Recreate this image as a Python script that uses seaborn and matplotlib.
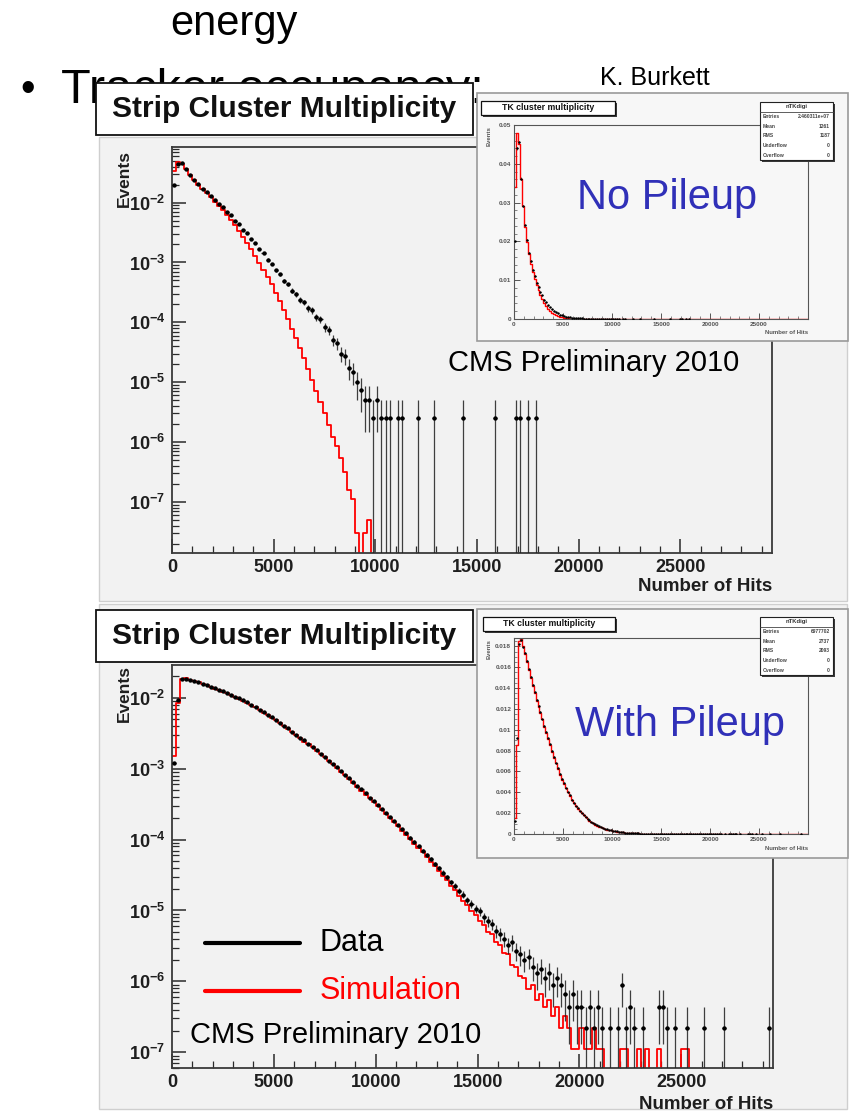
import numpy as np
import pandas as pd
import matplotlib
matplotlib.use("Agg")
import matplotlib.pyplot as plt
import seaborn as sns
from matplotlib.patches import Rectangle
from matplotlib.lines import Line2D
from matplotlib.ticker import (LogLocator, MultipleLocator, FuncFormatter,
                               NullFormatter)

# ---------------------------------------------------------------- data
# Histograms use 200-hit bins starting at 0; dense arrays hold the first
# bins in order, *_tail arrays list isolated bins (centre, content).
BIN_W = 200
X_MAX = 30000

# No pileup
top_data = [
    0.0200, 0.0440, 0.0455, 0.0362, 0.0292,
    0.0241, 0.0203, 0.0171, 0.0149, 0.0127,
    0.0111, 0.0094, 0.0083, 0.0069, 0.0061,
    0.0050, 0.0044, 0.0035, 0.0031, 0.0025,
    0.00212, 0.00168, 0.00143, 0.00112, 0.00095,
    0.00074, 0.00064, 0.00049, 0.00043, 0.00034,
    0.000295, 0.000238, 0.000215, 0.000171, 0.000158,
    0.000122, 0.000113, 0.000082, 0.000074, 0.000051,
    0.000045, 0.000030, 0.0000275, 0.0000175, 0.0000150,
    0.0000100, 0.0000075, 0.0000050,
]
top_data_tail_x = [9700, 9900, 10100, 10300, 10500, 10700, 11100, 11300,
                   12100, 12900, 14300, 15900, 16900, 17100, 17500, 17900]
top_data_tail_y = [5e-6, 2.5e-6, 5e-6, 2.5e-6, 2.5e-6, 2.5e-6, 2.5e-6, 2.5e-6,
                   2.5e-6, 2.5e-6, 2.5e-6, 2.5e-6, 2.5e-6, 2.5e-6, 2.5e-6, 2.5e-6]
top_sim = [
    0.0340, 0.0480, 0.0450, 0.0360, 0.0290,
    0.0238, 0.0198, 0.0168, 0.0143, 0.0122,
    0.0104, 0.0088, 0.0074, 0.0062, 0.0051,
    0.0042, 0.0034, 0.0027, 0.0021, 0.00165,
    0.00128, 0.00098, 0.00075, 0.00057, 0.00043,
    0.00031, 0.000225, 0.000160, 0.000112, 0.000078,
    5.4e-5, 3.7e-5, 2.5e-5, 1.65e-5, 1.08e-5,
    7.2e-6, 4.6e-6, 3.0e-6, 1.9e-6, 1.2e-6,
    8.5e-7, 5.5e-7, 3.2e-7, 1.6e-7, 1.1e-7,
    3e-8, 0.0, 3e-8, 5e-8, 0.0,
]
top_unit = 2.5e-6   # content of a single-entry bin

# With pileup
bot_data = [
    0.0012, 0.0092, 0.0182, 0.0186, 0.0179,
    0.0174, 0.0166, 0.0158, 0.0151, 0.0143,
    0.0136, 0.0129, 0.0123, 0.0117, 0.0110,
    0.0104, 0.0098, 0.0092, 0.0086, 0.0080,
    0.0074, 0.0068, 0.0063, 0.0058, 0.0053,
    0.0049, 0.0044, 0.0040, 0.0037, 0.0033,
    0.0030, 0.0027, 0.0025, 0.0022, 0.0020,
    0.00181, 0.00163, 0.00146, 0.00130, 0.00117,
    0.00104, 0.00093, 0.00082, 0.00073, 0.00065,
    0.00057, 0.00051, 0.00045, 0.00039, 0.00035,
    0.00031, 0.00027, 0.00024, 0.000210, 0.000184,
    0.000160, 0.000141, 0.000123, 0.000106, 0.000093,
    0.000081, 0.000070, 0.000061, 0.000053, 0.000045,
    0.000040, 0.000034, 0.0000295, 0.0000250, 0.0000222,
    0.0000190, 0.0000168, 0.0000139, 0.0000125, 0.0000106,
    0.0000097, 0.0000080, 0.0000071, 0.0000065, 0.0000051,
    0.0000047, 0.0000040, 0.0000033, 0.0000036, 0.0000027,
    0.0000024, 0.0000020, 0.0000022, 0.0000016, 0.0000013,
    0.0000015, 0.0000011, 0.0000013, 0.00000088, 0.0000011,
]
bot_data_tail_x = [19100, 19300, 19500, 19700, 19900, 20100, 20300, 20500,
                   20700, 20900, 21100, 21500, 21900, 22100, 22300, 22500,
                   22700, 23100, 23900, 24100, 24300, 24700, 25300, 26100,
                   27100, 29300]
bot_data_tail_y = [8.8e-7, 6.6e-7, 4.4e-7, 6.6e-7, 4.4e-7, 4.4e-7, 2.2e-7, 4.4e-7,
                   2.2e-7, 4.4e-7, 2.2e-7, 2.2e-7, 2.2e-7, 8.8e-7, 2.2e-7, 4.4e-7,
                   2.2e-7, 2.2e-7, 4.4e-7, 4.4e-7, 2.2e-7, 2.2e-7, 2.2e-7, 2.2e-7,
                   2.2e-7, 2.2e-7]
bot_sim = [
    0.0015, 0.0085, 0.0185, 0.0188, 0.0180,
    0.0173, 0.0165, 0.0157, 0.0150, 0.0142,
    0.0135, 0.0128, 0.0122, 0.0116, 0.0110,
    0.0103, 0.0097, 0.0091, 0.0085, 0.0079,
    0.0073, 0.0068, 0.0062, 0.0057, 0.0052,
    0.0048, 0.0044, 0.0040, 0.0036, 0.0033,
    0.0030, 0.0027, 0.0024, 0.0022, 0.0020,
    0.00180, 0.00161, 0.00144, 0.00129, 0.00115,
    0.00102, 0.00091, 0.00081, 0.00071, 0.00063,
    0.00056, 0.00049, 0.00043, 0.00038, 0.00034,
    0.00030, 0.00026, 0.00023, 0.000200, 0.000176,
    0.000154, 0.000134, 0.000116, 0.000101, 0.000088,
    0.000076, 0.000066, 0.000057, 0.000049, 0.000042,
    0.000036, 0.000031, 0.0000265, 0.0000225, 0.0000192,
    0.0000160, 0.0000135, 0.0000118, 0.0000098, 0.0000085,
    0.0000070, 0.0000062, 0.0000050, 0.0000046, 0.0000036,
    0.0000033, 0.0000025, 0.0000024, 0.0000017, 0.0000016,
    0.0000012, 0.0000011, 0.00000078, 0.00000088, 0.00000055,
    0.00000066, 0.00000044, 0.00000055, 0.00000033, 0.00000044,
    0.00000022, 0.00000033, 0.00000022, 0.00000011, 0.00000011,
]
bot_sim_tail_x = [20100, 20300, 20500, 20700, 20900, 21100, 22100, 22300,
                  22900, 23300, 23900, 25100, 25300]
bot_sim_tail_y = [2.2e-7, 1.1e-7, 1.1e-7, 2.2e-7, 1.1e-7, 1.1e-7, 1.1e-7, 1.1e-7,
                  1.1e-7, 1.1e-7, 1.1e-7, 1.1e-7, 1.1e-7]
bot_unit = 2.2e-7

stats_labels = ["Entries", "Mean", "RMS", "Underflow", "Overflow"]
top_stats = ["2.460311e+07", "1261", "1187", "0", "0"]
bot_stats = ["6977702", "2737", "2093", "0", "0"]

# ---------------------------------------------------------------- setup
sns.set_theme(style="white")
plt.rcParams["font.family"] = ["Liberation Sans", "DejaVu Sans"]
plt.rcParams["font.weight"] = "bold"
plt.rcParams["axes.labelweight"] = "bold"
plt.rcParams["mathtext.fontset"] = "custom"
plt.rcParams["mathtext.rm"] = "Liberation Sans:bold"
plt.rcParams["mathtext.it"] = "Liberation Sans:bold"
plt.rcParams["mathtext.bf"] = "Liberation Sans:bold"

W, H = 851, 1117
fig = plt.figure(figsize=(W / 100, H / 100), dpi=100)
fig.patch.set_facecolor("white")

edges = np.arange(0, X_MAX + BIN_W, BIN_W)
centers = edges[:-1] + BIN_W / 2


def rect(x0, y0, x1, y1):
    """Pixel box (top-left origin) -> figure fraction [l, b, w, h]."""
    return [x0 / W, 1 - y1 / H, (x1 - x0) / W, (y1 - y0) / H]


def fx(x):
    return x / W


def fy(y):
    return 1 - y / H


def panel(x0, y0, x1, y1, face, edge, z, lw=1.0):
    fig.add_artist(Rectangle((fx(x0), fy(y1)), (x1 - x0) / W, (y1 - y0) / H,
                             transform=fig.transFigure, facecolor=face,
                             edgecolor=edge, linewidth=lw, zorder=z))


def full_hist(dense, tail_x=(), tail_y=()):
    h = np.zeros(len(centers))
    h[:len(dense)] = dense
    for x, y in zip(tail_x, tail_y):
        h[int(x // BIN_W)] = y
    return h


def draw_sim(ax, h, lw):
    df = pd.DataFrame({"hits": centers, "content": h})
    sns.histplot(data=df, x="hits", weights="content", binwidth=BIN_W,
                 binrange=(0, X_MAX), element="step", fill=False,
                 color="#ff0000", linewidth=lw, ax=ax, zorder=2)


def draw_data(ax, h, unit, ms, lw, log):
    keep = h > 0
    cx, cy = centers[keep], h[keep]
    err = np.sqrt(cy * unit)
    lo = cy - err
    if log:
        lo = np.where(lo > 0, lo, 1e-14)
    else:
        lo = np.clip(lo, 0, None)
    ax.vlines(cx, lo, cy + err, colors="#202020", linewidth=lw, zorder=3, alpha=0.85)
    ax.hlines(cy, cx - BIN_W / 2, cx + BIN_W / 2, colors="#202020", linewidth=lw, zorder=3)
    df = pd.DataFrame({"hits": cx, "events": cy})
    sns.scatterplot(data=df, x="hits", y="events", color="black", s=ms,
                    linewidth=0, ax=ax, legend=False, zorder=4)


def style_main(ax, ylo, yhi, xlab_y, ylab_y):
    ax.set_yscale("log")
    ax.set_facecolor("none")
    ax.set_xlim(0, 29500)
    ax.set_ylim(ylo, yhi)
    ax.xaxis.set_major_locator(MultipleLocator(5000))
    ax.xaxis.set_minor_locator(MultipleLocator(1000))
    ax.yaxis.set_major_locator(LogLocator(base=10, numticks=30))
    ax.yaxis.set_minor_locator(LogLocator(base=10, subs=np.arange(2, 10), numticks=30))
    ax.yaxis.set_major_formatter(
        FuncFormatter(lambda v, p: r"$\mathrm{10^{%d}}$" % round(np.log10(v))))
    ax.yaxis.set_minor_formatter(NullFormatter())
    ax.xaxis.set_major_formatter(FuncFormatter(lambda v, p: "%d" % v))
    ax.tick_params(which="both", direction="in", top=False, right=False,
                   left=True, bottom=True, colors="#2a2a2a", labelcolor="#1e1e1e")
    ax.tick_params(which="major", length=10, width=1.1)
    ax.tick_params(which="minor", length=5, width=0.9)
    ax.tick_params(axis="y", which="major", pad=5, labelsize=13)
    ax.tick_params(axis="x", which="major", pad=4, labelsize=13)
    for s in ax.spines.values():
        s.set_color("#3a3a3a")
        s.set_linewidth(1.3)
    ax.set_xlabel("Number of Hits", fontsize=13.5, fontweight="bold",
                  color="#1e1e1e", loc="right")
    ax.xaxis.set_label_coords(1.0, xlab_y)
    ax.set_ylabel("Events", fontsize=12.5, fontweight="bold",
                  color="#1e1e1e", loc="top")
    ax.yaxis.set_label_coords(-0.067, ylab_y)


def style_inset(ax, ymax, ystep, yminor):
    ax.set_facecolor("none")
    ax.set_xlim(0, X_MAX)
    ax.set_ylim(0, ymax)
    ax.xaxis.set_major_locator(MultipleLocator(5000))
    ax.xaxis.set_minor_locator(MultipleLocator(1000))
    ax.yaxis.set_major_locator(MultipleLocator(ystep))
    ax.yaxis.set_minor_locator(MultipleLocator(yminor))
    ax.xaxis.set_major_formatter(FuncFormatter(lambda v, p: "%d" % v if v < 29000 else ""))
    ax.yaxis.set_major_formatter(
        FuncFormatter(lambda v, p: "0" if abs(v) < 1e-9 else "%g" % round(v, 4)))
    ax.tick_params(which="both", direction="in", top=False, right=False,
                   left=True, bottom=True, colors="#555555", labelcolor="#555555",
                   labelsize=4.6, pad=2)
    ax.tick_params(which="major", length=4.5, width=0.7)
    ax.tick_params(which="minor", length=2.2, width=0.5)
    for s in ax.spines.values():
        s.set_color("#555555")
        s.set_linewidth(0.8)
    ax.set_xlabel("")
    ax.set_ylabel("")


def title_box(x0, y0, x1, y1, text, size, z, shadow=0, lw=1.3):
    if shadow:
        panel(x0 + shadow, y0 + shadow, x1 + shadow, y1 + shadow, "#3a3a3a", "none", z)
    panel(x0, y0, x1, y1, "white", "#111111", z + 0.1, lw=lw)
    fig.text(fx((x0 + x1) / 2), fy((y0 + y1) / 2), text, fontsize=size,
             ha="center", va="center", color="#111111", zorder=z + 0.2)


def stats_box(x0, y0, x1, y1, values, z):
    panel(x0 + 2, y0 + 2, x1 + 2, y1 + 2, "#3a3a3a", "none", z)
    panel(x0, y0, x1, y1, "white", "#222222", z + 0.1, lw=0.8)
    rowh = (y1 - y0) / 6
    fig.text(fx((x0 + x1) / 2), fy(y0 + rowh / 2), "nTKdigi", fontsize=4.2,
             ha="center", va="center", color="#333333", zorder=z + 0.2)
    fig.add_artist(Line2D([fx(x0), fx(x1)], [fy(y0 + rowh)] * 2,
                          transform=fig.transFigure, color="#444444",
                          linewidth=0.6, zorder=z + 0.2))
    for i, (lab, val) in enumerate(zip(stats_labels, values)):
        yy = fy(y0 + rowh * (i + 1.5))
        fig.text(fx(x0 + 3), yy, lab, fontsize=3.6, ha="left", va="center",
                 color="#444444", zorder=z + 0.2)
        fig.text(fx(x1 - 3), yy, val, fontsize=3.6, ha="right", va="center",
                 color="#444444", zorder=z + 0.2)


# ---------------------------------------------------------------- slide text
fig.text(fx(170), fy(35), "energy", fontsize=30, fontweight="normal",
         ha="left", va="baseline", color="black", zorder=0.5)
fig.text(fx(20), fy(101), "\u2022", fontsize=30, fontweight="normal",
         ha="left", va="baseline", color="black", zorder=0.5)
fig.text(fx(61), fy(103), "Tracker occupancy:", fontsize=35, fontweight="normal",
         ha="left", va="baseline", color="black", zorder=0.5)
fig.text(fx(655), fy(78), "K. Burkett", fontsize=18, fontweight="normal",
         ha="center", va="center", color="black", zorder=9)

# ---------------------------------------------------------------- top panel
h_top_data = full_hist(top_data, top_data_tail_x, top_data_tail_y)
h_top_sim = full_hist(top_sim)
h_bot_data = full_hist(bot_data, bot_data_tail_x, bot_data_tail_y)
h_bot_sim = full_hist(bot_sim, bot_sim_tail_x, bot_sim_tail_y)

panel(99, 137, 847, 601, "#f2f2f2", "#cfcfcf", 1)
ax1 = fig.add_axes(rect(172, 147, 772, 553), zorder=2)
ax1.set_yscale("log")
draw_sim(ax1, h_top_sim, 1.3)
draw_data(ax1, h_top_data, top_unit, 10, 0.9, True)
style_main(ax1, 1.4e-8, 0.085, -0.062, 0.993)
title_box(96, 83, 473, 135, "Strip Cluster Multiplicity", 21.5, 3)
fig.text(fx(448), fy(363), "CMS Preliminary 2010", fontsize=21, fontweight="normal",
         ha="left", va="center", color="black", zorder=9)

# inset: no pileup, linear scale
panel(477, 93, 848, 341, "#f7f7f7", "#9a9a9a", 4, lw=1.2)
ins1 = fig.add_axes(rect(514, 125, 808, 319), zorder=5)
draw_sim(ins1, h_top_sim, 1.0)
draw_data(ins1, h_top_data, top_unit, 3, 0.5, False)
style_inset(ins1, 0.05, 0.01, 0.002)
fig.text(fx(489), fy(126), "Events", fontsize=4.3, rotation=90, ha="center",
         va="top", color="#555555", zorder=6)
fig.text(fx(808), fy(333), "Number of Hits", fontsize=4.3, ha="right",
         va="center", color="#555555", zorder=6)
title_box(481, 101, 615, 115, "TK cluster multiplicity", 6.3, 6, shadow=2, lw=0.9)
stats_box(760, 102, 833, 160, top_stats, 6)
fig.text(fx(667), fy(198), "No Pileup", fontsize=30, fontweight="normal",
         ha="center", va="center", color="#3030b8", zorder=9)

# ---------------------------------------------------------------- bottom panel
panel(99, 604, 847, 1109, "#f2f2f2", "#cfcfcf", 1)
ax2 = fig.add_axes(rect(172, 665, 773, 1068), zorder=2)
ax2.set_yscale("log")
draw_sim(ax2, h_bot_sim, 1.3)
draw_data(ax2, h_bot_data, bot_unit, 10, 0.9, True)
style_main(ax2, 6e-8, 0.029, -0.069, 1.0)
title_box(96, 610, 473, 662, "Strip Cluster Multiplicity", 21.5, 3)

panel(477, 609, 848, 858, "#f7f7f7", "#9a9a9a", 4, lw=1.2)
ins2 = fig.add_axes(rect(514, 638, 808, 834), zorder=5)
draw_sim(ins2, h_bot_sim, 1.0)
draw_data(ins2, h_bot_data, bot_unit, 3, 0.5, False)
style_inset(ins2, 0.0188, 0.002, 0.0005)
fig.text(fx(489), fy(639), "Events", fontsize=4.3, rotation=90, ha="center",
         va="top", color="#555555", zorder=6)
fig.text(fx(808), fy(848), "Number of Hits", fontsize=4.3, ha="right",
         va="center", color="#555555", zorder=6)
title_box(483, 617, 615, 631, "TK cluster multiplicity", 6.3, 6, shadow=2, lw=0.9)
stats_box(760, 617, 833, 675, bot_stats, 6)
fig.text(fx(680), fy(725), "With Pileup", fontsize=30, fontweight="normal",
         ha="center", va="center", color="#3030b8", zorder=9)

# legend and label inside the bottom frame
fig.add_artist(Line2D([fx(205), fx(300)], [fy(943)] * 2, transform=fig.transFigure,
                      color="black", linewidth=3, zorder=9))
fig.add_artist(Line2D([fx(205), fx(300)], [fy(991)] * 2, transform=fig.transFigure,
                      color="#ff0000", linewidth=3, zorder=9))
fig.text(fx(320), fy(943), "Data", fontsize=22, fontweight="normal",
         ha="left", va="center", color="black", zorder=9)
fig.text(fx(320), fy(991), "Simulation", fontsize=22, fontweight="normal",
         ha="left", va="center", color="#ff0000", zorder=9)
fig.text(fx(190), fy(1035), "CMS Preliminary 2010", fontsize=21, fontweight="normal",
         ha="left", va="center", color="black", zorder=9)

fig.savefig("out.png", dpi=100, facecolor="white")
